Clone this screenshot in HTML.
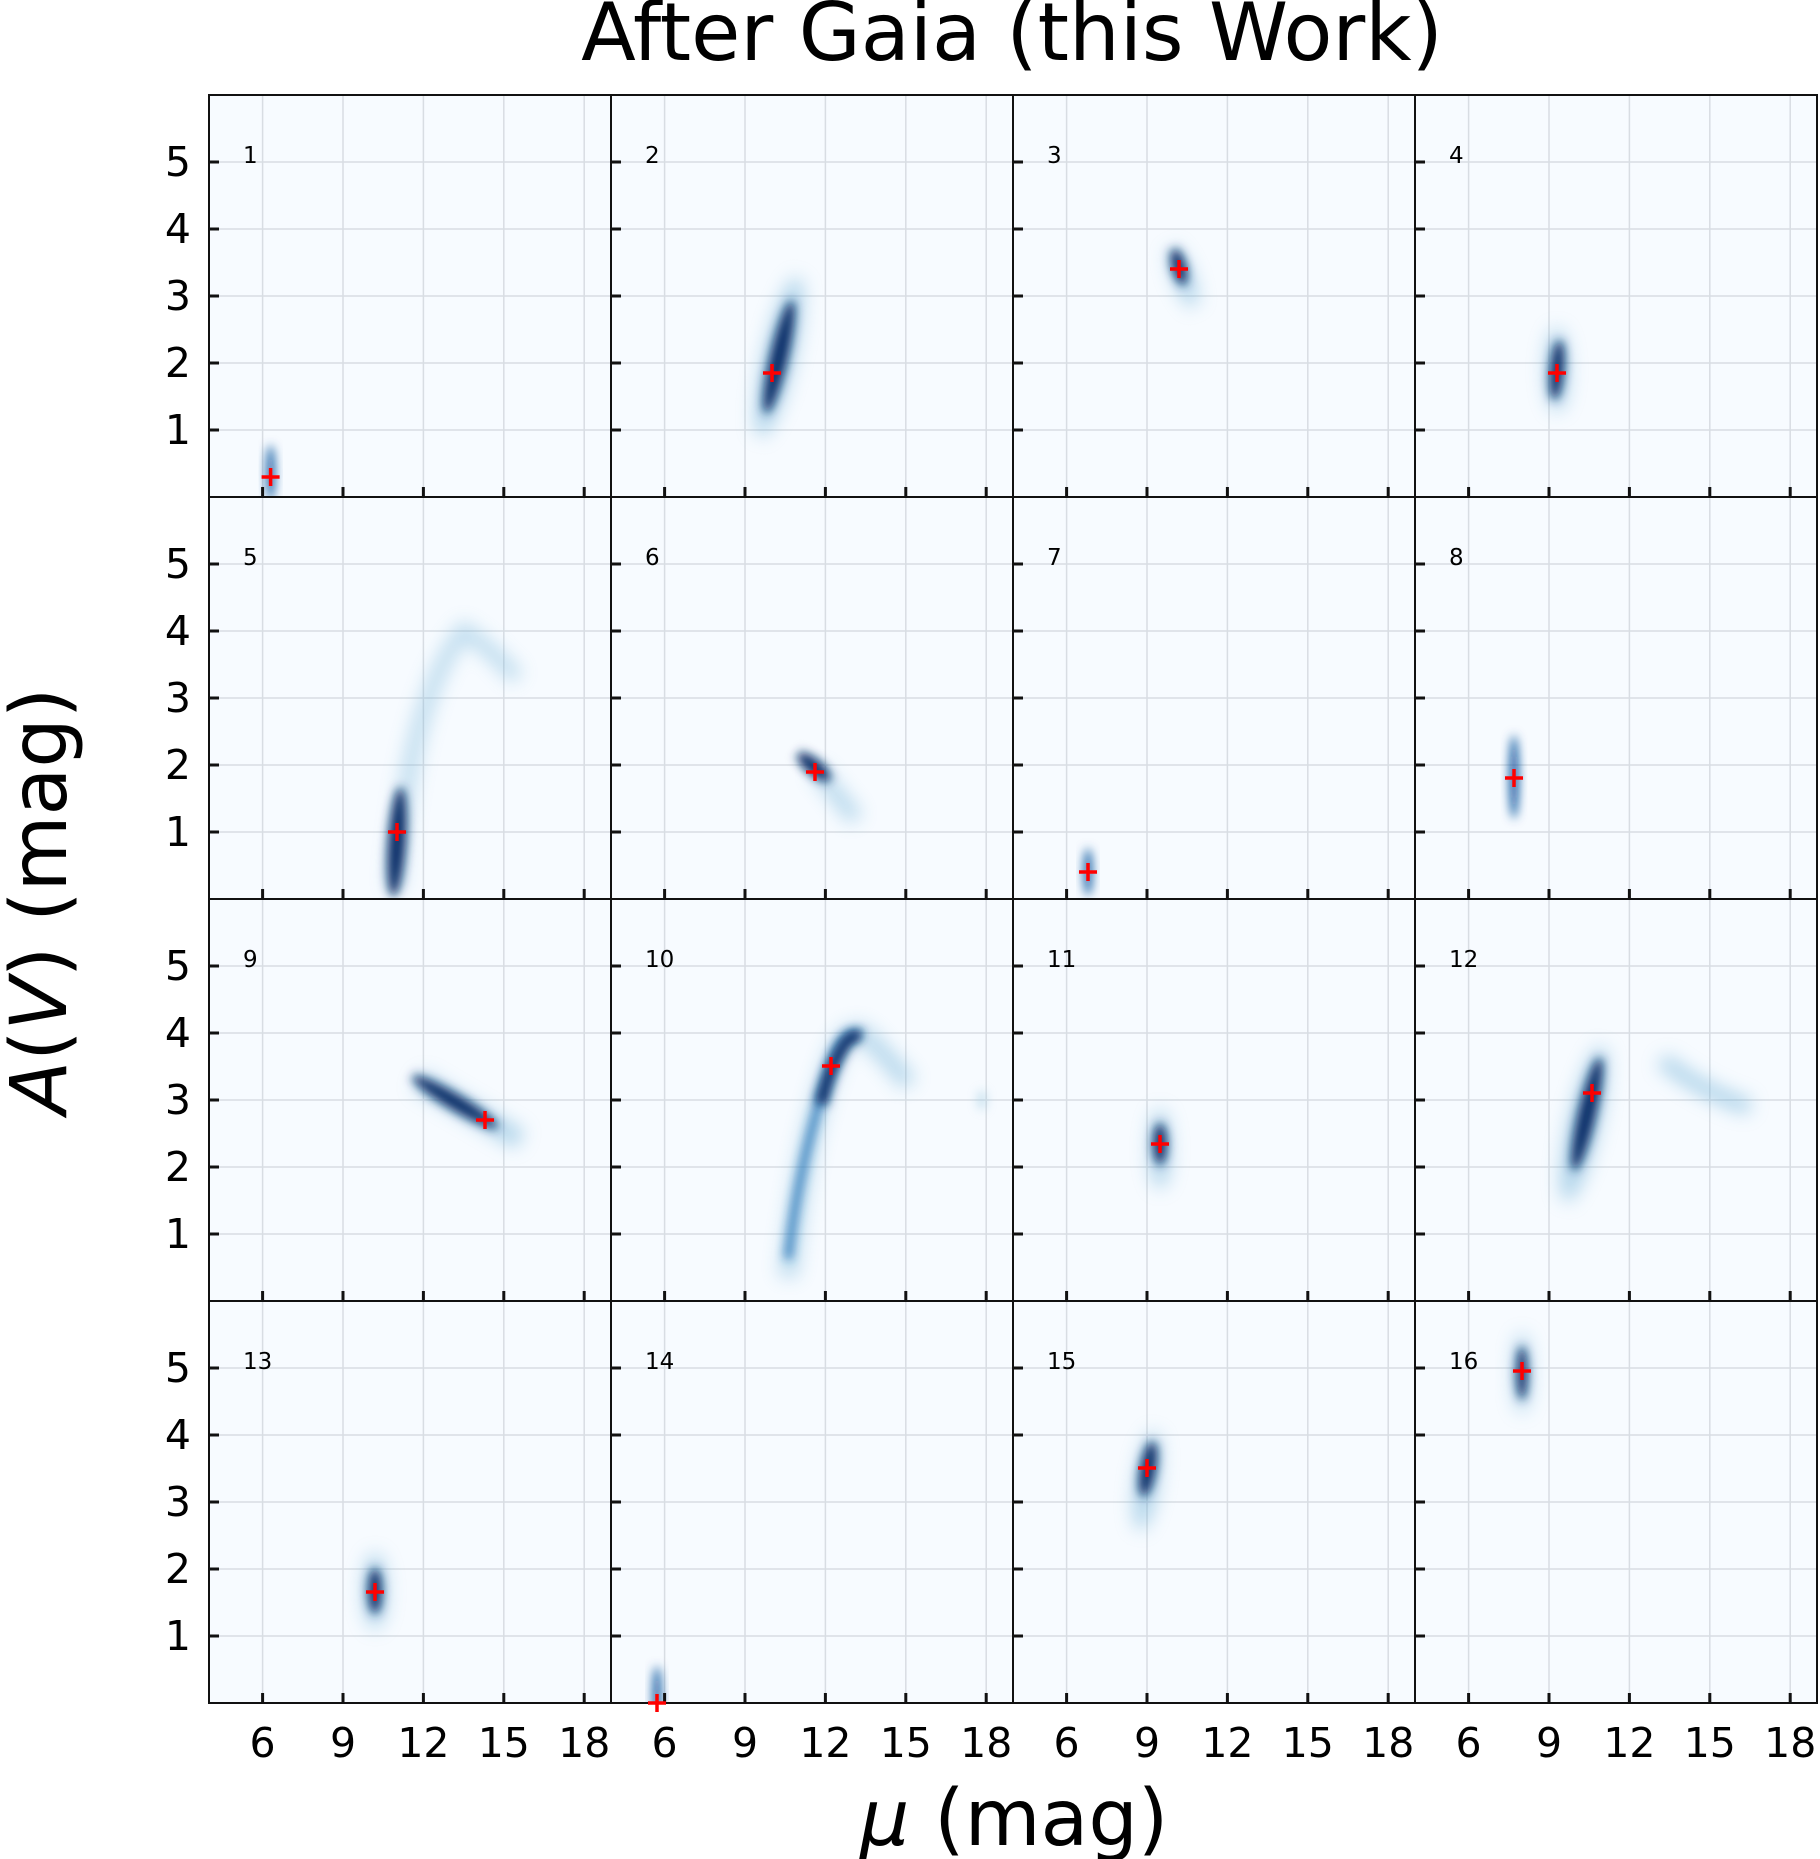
<!DOCTYPE html>
<html><head><meta charset="utf-8"><style>
html,body{margin:0;padding:0;background:#fff;}
svg{display:block;font-family:"DejaVu Sans","Liberation Sans",sans-serif;}
</style></head><body>
<svg width="1820" height="1859" viewBox="0 0 1820 1859" xmlns="http://www.w3.org/2000/svg">
<defs>
<filter id="b1" x="-100%" y="-100%" width="300%" height="300%"><feGaussianBlur stdDeviation="5"/></filter>
<filter id="b2" x="-100%" y="-100%" width="300%" height="300%"><feGaussianBlur stdDeviation="9"/></filter>
<clipPath id="cp"><rect x="0" y="0" width="402" height="402"/></clipPath>
<g id="bg">
<rect x="0" y="0" width="402" height="402" fill="#f7fbff"/>
<g stroke="#d8dde3" stroke-width="1.5">
<line x1="53.6" y1="0" x2="53.6" y2="402"/><line x1="134" y1="0" x2="134" y2="402"/><line x1="214.4" y1="0" x2="214.4" y2="402"/><line x1="294.8" y1="0" x2="294.8" y2="402"/><line x1="375.2" y1="0" x2="375.2" y2="402"/>
<line x1="0" y1="67" x2="402" y2="67"/><line x1="0" y1="134" x2="402" y2="134"/><line x1="0" y1="201" x2="402" y2="201"/><line x1="0" y1="268" x2="402" y2="268"/><line x1="0" y1="335" x2="402" y2="335"/>
</g>
</g>
<g id="fr">
<rect x="0" y="0" width="402" height="402" fill="none" stroke="#111" stroke-width="2"/>
<g stroke="#111" stroke-width="3">
<line x1="53.6" y1="402" x2="53.6" y2="392"/><line x1="134" y1="402" x2="134" y2="392"/><line x1="214.4" y1="402" x2="214.4" y2="392"/><line x1="294.8" y1="402" x2="294.8" y2="392"/><line x1="375.2" y1="402" x2="375.2" y2="392"/>
<line x1="0" y1="67" x2="10" y2="67"/><line x1="0" y1="134" x2="10" y2="134"/><line x1="0" y1="201" x2="10" y2="201"/><line x1="0" y1="268" x2="10" y2="268"/><line x1="0" y1="335" x2="10" y2="335"/>
</g>
</g>
<g id="cr" stroke="#ff0000" stroke-width="3.5"><line x1="-9" y1="0" x2="9" y2="0"/><line x1="0" y1="-9" x2="0" y2="9"/></g>
</defs>

<text x="1012" y="60" font-size="80" text-anchor="middle" fill="#000">After Gaia (this Work)</text>
<text x="1014" y="1845" font-size="78" text-anchor="middle" fill="#000"><tspan font-style="italic">μ</tspan> (mag)</text>
<text transform="translate(66,901) rotate(-90)" font-size="78" text-anchor="middle" fill="#000"><tspan font-style="italic">A</tspan>(<tspan font-style="italic">V</tspan>) (mag)</text>

<g font-size="41" text-anchor="end" fill="#000">
<g transform="translate(0,95)"><text x="191" y="81">5</text><text x="191" y="148">4</text><text x="191" y="215">3</text><text x="191" y="282">2</text><text x="191" y="349">1</text></g>
<g transform="translate(0,497)"><text x="191" y="81">5</text><text x="191" y="148">4</text><text x="191" y="215">3</text><text x="191" y="282">2</text><text x="191" y="349">1</text></g>
<g transform="translate(0,899)"><text x="191" y="81">5</text><text x="191" y="148">4</text><text x="191" y="215">3</text><text x="191" y="282">2</text><text x="191" y="349">1</text></g>
<g transform="translate(0,1301)"><text x="191" y="81">5</text><text x="191" y="148">4</text><text x="191" y="215">3</text><text x="191" y="282">2</text><text x="191" y="349">1</text></g>
</g>
<g font-size="41" text-anchor="middle" fill="#000">
<g transform="translate(209,0)"><text x="53.6" y="1757">6</text><text x="134" y="1757">9</text><text x="214.4" y="1757">12</text><text x="294.8" y="1757">15</text><text x="375.2" y="1757">18</text></g>
<g transform="translate(611,0)"><text x="53.6" y="1757">6</text><text x="134" y="1757">9</text><text x="214.4" y="1757">12</text><text x="294.8" y="1757">15</text><text x="375.2" y="1757">18</text></g>
<g transform="translate(1013,0)"><text x="53.6" y="1757">6</text><text x="134" y="1757">9</text><text x="214.4" y="1757">12</text><text x="294.8" y="1757">15</text><text x="375.2" y="1757">18</text></g>
<g transform="translate(1415,0)"><text x="53.6" y="1757">6</text><text x="134" y="1757">9</text><text x="214.4" y="1757">12</text><text x="294.8" y="1757">15</text><text x="375.2" y="1757">18</text></g>
</g>

<g transform="translate(209,95)"><use href="#bg"/><g clip-path="url(#cp)">
<ellipse cx="61.6" cy="378" rx="4" ry="28" fill="#08519c" filter="url(#b1)"/>
</g><use href="#fr"/><use href="#cr" x="61.6" y="382"/><text x="34" y="68" font-size="23">1</text></g>
<g transform="translate(611,95)"><use href="#bg"/><g clip-path="url(#cp)">
<ellipse cx="168" cy="262" rx="16" ry="82" fill="#6baed6" opacity="0.5" transform="rotate(13 168 262)" filter="url(#b2)"/>
<ellipse cx="168" cy="262" rx="9" ry="58" fill="#08306b" transform="rotate(13 168 262)" filter="url(#b1)"/>
</g><use href="#fr"/><use href="#cr" x="161" y="278"/><text x="34" y="68" font-size="23">2</text></g>
<g transform="translate(1013,95)"><use href="#bg"/><g clip-path="url(#cp)">
<ellipse cx="170" cy="182" rx="10" ry="32" fill="#6baed6" opacity="0.5" transform="rotate(-20 170 182)" filter="url(#b2)"/>
<ellipse cx="166" cy="172" rx="7" ry="19" fill="#08306b" transform="rotate(-15 166 172)" filter="url(#b1)"/>
</g><use href="#fr"/><use href="#cr" x="166" y="174"/><text x="34" y="68" font-size="23">3</text></g>
<g transform="translate(1415,95)"><use href="#bg"/><g clip-path="url(#cp)">
<ellipse cx="142" cy="275" rx="12" ry="42" fill="#6baed6" opacity="0.5" filter="url(#b2)"/>
<ellipse cx="142" cy="275" rx="7" ry="30" fill="#08306b" transform="rotate(5 142 275)" filter="url(#b1)"/>
</g><use href="#fr"/><use href="#cr" x="142" y="278"/><text x="34" y="68" font-size="23">4</text></g>

<g transform="translate(209,497)"><use href="#bg"/><g clip-path="url(#cp)">
<path d="M186,392 Q200,200 255,134 Q280,150 308,181" fill="none" stroke="#6baed6" stroke-width="16" opacity="0.4" filter="url(#b2)"/>
<ellipse cx="188" cy="345" rx="9" ry="55" fill="#08306b" transform="rotate(4 188 345)" filter="url(#b1)"/>
</g><use href="#fr"/><use href="#cr" x="188" y="335"/><text x="34" y="68" font-size="23">5</text></g>
<g transform="translate(611,497)"><use href="#bg"/><g clip-path="url(#cp)">
<path d="M205,272 L245,322" stroke="#6baed6" stroke-width="16" opacity="0.45" filter="url(#b2)"/>
<ellipse cx="203" cy="270" rx="8" ry="21" fill="#08306b" transform="rotate(-50 203 270)" filter="url(#b1)"/>
</g><use href="#fr"/><use href="#cr" x="204" y="275"/><text x="34" y="68" font-size="23">6</text></g>
<g transform="translate(1013,497)"><use href="#bg"/><g clip-path="url(#cp)">
<ellipse cx="75" cy="375" rx="4" ry="24" fill="#08519c" filter="url(#b1)"/>
</g><use href="#fr"/><use href="#cr" x="75" y="375"/><text x="34" y="68" font-size="23">7</text></g>
<g transform="translate(1415,497)"><use href="#bg"/><g clip-path="url(#cp)">
<ellipse cx="99" cy="280" rx="4.5" ry="42" fill="#08519c" filter="url(#b1)"/>
</g><use href="#fr"/><use href="#cr" x="99" y="281"/><text x="34" y="68" font-size="23">8</text></g>

<g transform="translate(209,899)"><use href="#bg"/><g clip-path="url(#cp)">
<path d="M209,181 L311,241" stroke="#6baed6" stroke-width="20" opacity="0.5" filter="url(#b2)"/>
<ellipse cx="246" cy="203" rx="50" ry="8" fill="#08306b" transform="rotate(31 246 203)" filter="url(#b1)"/>
</g><use href="#fr"/><use href="#cr" x="276" y="221"/><text x="34" y="68" font-size="23">9</text></g>
<g transform="translate(611,899)"><use href="#bg"/><g clip-path="url(#cp)">
<path d="M177,378 Q190,250 220,167 Q232,130 250,134 Q270,150 298,185" fill="none" stroke="#6baed6" stroke-width="18" opacity="0.45" filter="url(#b2)"/>
<path d="M177,360 Q188,260 220,167 Q232,130 248,136" fill="none" stroke="#2171b5" stroke-width="8" opacity="0.85" filter="url(#b1)"/>
<path d="M210,205 Q218,170 232,148 Q240,134 250,138" fill="none" stroke="#08306b" stroke-width="12" filter="url(#b1)"/>
<ellipse cx="371" cy="201" rx="5" ry="10" fill="#9ecae1" opacity="0.5" filter="url(#b1)"/>
</g><use href="#fr"/><use href="#cr" x="220" y="167"/><text x="34" y="68" font-size="23">10</text></g>
<g transform="translate(1013,899)"><use href="#bg"/><g clip-path="url(#cp)">
<ellipse cx="147" cy="250" rx="11" ry="40" fill="#6baed6" opacity="0.5" filter="url(#b2)"/>
<ellipse cx="147" cy="245" rx="7" ry="21" fill="#08306b" filter="url(#b1)"/>
</g><use href="#fr"/><use href="#cr" x="147" y="245"/><text x="34" y="68" font-size="23">11</text></g>
<g transform="translate(1415,899)"><use href="#bg"/><g clip-path="url(#cp)">
<path d="M247,161 Q290,195 335,208" fill="none" stroke="#6baed6" stroke-width="16" opacity="0.5" filter="url(#b2)"/>
<ellipse cx="169" cy="225" rx="16" ry="80" fill="#6baed6" opacity="0.5" transform="rotate(13 169 225)" filter="url(#b2)"/>
<ellipse cx="172" cy="215" rx="9" ry="58" fill="#08306b" transform="rotate(13 172 215)" filter="url(#b1)"/>
</g><use href="#fr"/><use href="#cr" x="177" y="194"/><text x="34" y="68" font-size="23">12</text></g>

<g transform="translate(209,1301)"><use href="#bg"/><g clip-path="url(#cp)">
<ellipse cx="166" cy="290" rx="12" ry="38" fill="#6baed6" opacity="0.5" filter="url(#b2)"/>
<ellipse cx="166" cy="290" rx="7" ry="23" fill="#08306b" filter="url(#b1)"/>
</g><use href="#fr"/><use href="#cr" x="166" y="291"/><text x="34" y="68" font-size="23">13</text></g>
<g transform="translate(611,1301)"><use href="#bg"/><g clip-path="url(#cp)">
<ellipse cx="46" cy="395" rx="4" ry="30" fill="#08519c" filter="url(#b1)"/>
</g><use href="#fr"/><use href="#cr" x="46" y="402"/><text x="34" y="68" font-size="23">14</text></g>
<g transform="translate(1013,1301)"><use href="#bg"/><g clip-path="url(#cp)">
<ellipse cx="134" cy="180" rx="12" ry="50" fill="#6baed6" opacity="0.5" transform="rotate(8 134 180)" filter="url(#b2)"/>
<ellipse cx="135" cy="168" rx="8" ry="28" fill="#08306b" transform="rotate(10 135 168)" filter="url(#b1)"/>
</g><use href="#fr"/><use href="#cr" x="134" y="167"/><text x="34" y="68" font-size="23">15</text></g>
<g transform="translate(1415,1301)"><use href="#bg"/><g clip-path="url(#cp)">
<ellipse cx="107" cy="72" rx="9" ry="40" fill="#6baed6" opacity="0.5" filter="url(#b2)"/>
<ellipse cx="107" cy="72" rx="5.5" ry="27" fill="#08306b" filter="url(#b1)"/>
</g><use href="#fr"/><use href="#cr" x="107" y="70"/><text x="34" y="68" font-size="23">16</text></g>
</svg>
</body></html>
